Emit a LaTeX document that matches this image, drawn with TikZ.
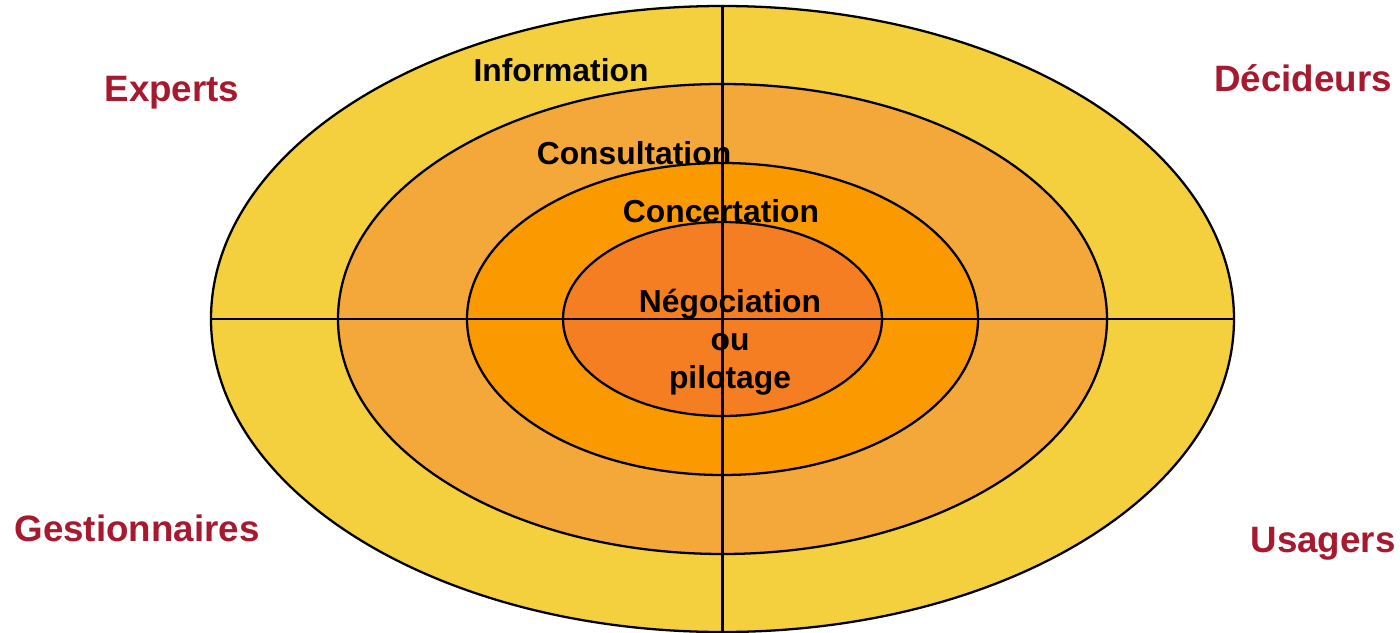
\documentclass[tikz,border=0pt]{standalone}
\usepackage{fontspec}
\setmainfont{Liberation Sans}
\definecolor{ringone}{HTML}{F4D03F}
\definecolor{ringtwo}{HTML}{F5A83A}
\definecolor{ringthree}{HTML}{FB9A00}
\definecolor{ringfour}{HTML}{F57E22}
\definecolor{actor}{HTML}{A6192E}

\begin{document}
\begin{tikzpicture}[
    level/.style={font=\fontsize{18.1}{21.6}\selectfont\bfseries, anchor=base, inner sep=0pt},
    who/.style={font=\fontsize{20.9}{25}\selectfont\bfseries, text=actor, anchor=base, inner sep=0pt}]
    \useasboundingbox (-14.45, 6.38) rectangle (13.55, -6.26);
    \draw[line width=1.3pt, fill=ringone] (0, 0) ellipse [x radius=10.23, y radius=6.26];
    \draw[line width=1.3pt, fill=ringtwo] (0, 0) ellipse [x radius=7.69, y radius=4.70];
    \draw[line width=1.3pt, fill=ringthree] (0, 0) ellipse [x radius=5.11, y radius=3.12];
    \draw[line width=1.3pt, fill=ringfour] (0, 0) ellipse [x radius=3.19, y radius=1.94];
    \draw[line width=1.3pt] (-10.23, 0) -- (10.23, 0);
    \draw[line width=1.3pt] (0, 6.26) -- (0, -6.26);
    \node[level] (info) at (-3.23, 4.74) {Information};
    \node[level] (consult) at (-1.77, 3.08) {Consultation};
    \node[level] (concert) at (-0.03, 1.92) {Concertation};
    % base is the last line here
    \node[level, align=center] (nego) at (0.15, -1.38) {Négociation\\ou\\pilotage};
    \node[who] (experts) at (-11.01, 4.34) {Experts};
    \node[who] (decideurs) at (11.61, 4.54) {Décideurs};
    \node[who] (gestion) at (-11.71, -4.44) {Gestionnaires};
    \node[who] (usagers) at (12.01, -4.66) {Usagers};
\end{tikzpicture}
\end{document}
